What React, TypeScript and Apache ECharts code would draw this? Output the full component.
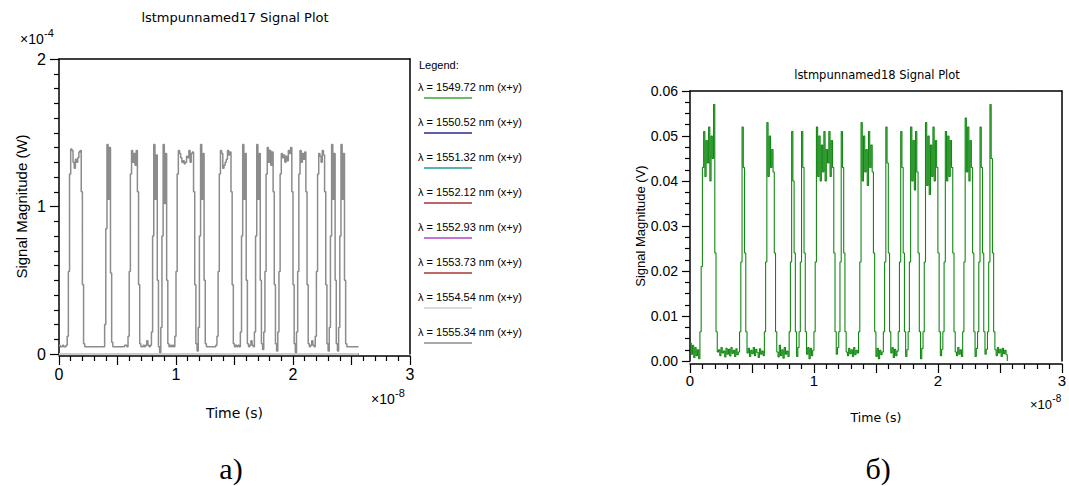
import React, { useEffect, useRef } from "react";
import * as echarts from "echarts";

// Time between samples, in units of 1e-8 s
const SAMPLE_STEP = 0.01;

// Optical power of the λ = 1555.34 nm channel, ×1e-4 W, one value per sample
const powerW = [
  0.06, 0.05, 0.05, 0.06, 0.05, 0.05, 0.06, 0.12, 0.56, 1.22, 1.39, 1.38, 1.30, 1.26, 1.32, 1.30,
  1.33, 1.37, 1.38, 1.10, 0.47, 0.07, 0.05, 0.05, 0.05, 0.05, 0.05, 0.05, 0.05, 0.05, 0.05, 0.05,
  0.05, 0.05, 0.05, 0.05, 0.05, 0.05, 0.05, 0.20, 0.85, 1.42, 1.05, 1.40, 0.55, 0.08, 0.05, 0.05,
  0.05, 0.05, 0.05, 0.05, 0.05, 0.05, 0.05, 0.05, 0.06, 0.06, 0.05, 0.12, 0.56, 1.22, 1.38, 1.30,
  1.36, 1.28, 1.38, 1.10, 0.47, 0.07, 0.05, 0.05, 0.06, 0.05, 0.06, 0.09, 0.06, 0.05, 0.06, 0.15,
  0.80, 1.42, 1.05, 1.35, 0.50, 0.05, 0.01, 0.18, 0.80, 1.42, 1.02, 1.36, 0.50, 0.07, 0.05, 0.06,
  0.05, 0.06, 0.05, 0.12, 0.56, 1.22, 1.38, 1.36, 1.33, 1.30, 1.31, 1.29, 1.30, 1.34, 1.33, 1.38,
  1.30, 1.36, 1.37, 1.10, 0.47, 0.07, 0.02, 0.18, 0.80, 1.42, 1.05, 1.36, 0.50, 0.07, 0.05, 0.05,
  0.05, 0.05, 0.05, 0.05, 0.05, 0.05, 0.06, 0.12, 0.56, 1.22, 1.38, 1.36, 1.26, 1.28, 1.30, 1.32,
  1.38, 1.35, 1.37, 1.10, 0.47, 0.07, 0.05, 0.06, 0.05, 0.06, 0.05, 0.15, 0.80, 1.42, 1.05, 1.36,
  0.50, 0.07, 0.05, 0.06, 0.09, 0.06, 0.05, 0.15, 0.80, 1.42, 1.05, 1.36, 0.50, 0.07, 0.03, 0.15,
  0.56, 1.22, 1.40, 1.30, 1.38, 1.28, 1.37, 1.10, 0.47, 0.07, 0.02, 0.15, 0.56, 1.22, 1.36, 1.33,
  1.35, 1.30, 1.34, 1.31, 1.38, 1.36, 1.40, 1.10, 0.47, 0.07, 0.01, 0.15, 0.56, 1.22, 1.38, 1.30,
  1.36, 1.32, 1.37, 1.10, 0.47, 0.07, 0.05, 0.06, 0.09, 0.06, 0.05, 0.12, 0.56, 1.22, 1.36, 1.34,
  1.30, 1.38, 1.35, 1.10, 0.47, 0.07, 0.02, 0.18, 0.80, 1.42, 1.05, 1.36, 0.50, 0.07, 0.02, 0.18,
  0.80, 1.42, 1.05, 1.36, 0.50, 0.07, 0.05, 0.05, 0.05, 0.05, 0.05, 0.05, 0.05, 0.05, 0.05, 0.05,
  0.05,
];

// Photodetector output, V, one value per sample
const voltageV = [
  0.0040, 0.0015, 0.0035, 0.0008, 0.0030, 0.0012, 0.0025, 0.0005, 0.0065, 0.021, 0.043, 0.051, 0.041, 0.049, 0.044, 0.052,
  0.040, 0.050, 0.045, 0.057, 0.024, 0.0065, 0.0020, 0.0025, 0.0012, 0.0030, 0.0018, 0.0022, 0.0009, 0.0028, 0.0015, 0.0026,
  0.0011, 0.0030, 0.0017, 0.0024, 0.0010, 0.0027, 0.0014, 0.0020, 0.0065, 0.022, 0.052, 0.043, 0.024, 0.0065, 0.0018, 0.0028,
  0.0010, 0.0024, 0.0016, 0.0030, 0.0012, 0.0026, 0.0019, 0.0008, 0.0027, 0.0015, 0.0022, 0.0012, 0.0065, 0.022, 0.053, 0.041,
  0.050, 0.043, 0.047, 0.042, 0.024, 0.0065, 0.0020, 0.0009, 0.0035, 0.0012, 0.0025, 0.0006, 0.0030, 0.0015, 0.0022, 0.0010,
  0.0065, 0.022, 0.051, 0.040, 0.024, 0.0065, 0.0010, 0.0030, 0.0065, 0.022, 0.051, 0.043, 0.024, 0.0065, 0.0015, 0.0030,
  0.0005, 0.0028, 0.0012, 0.0024, 0.0065, 0.022, 0.052, 0.041, 0.050, 0.040, 0.048, 0.042, 0.051, 0.040, 0.047, 0.044,
  0.051, 0.041, 0.049, 0.043, 0.024, 0.0065, 0.0015, 0.0030, 0.0065, 0.022, 0.051, 0.043, 0.024, 0.0065, 0.0020, 0.0012,
  0.0028, 0.0016, 0.0025, 0.0010, 0.0030, 0.0014, 0.0024, 0.0018, 0.0065, 0.022, 0.053, 0.040, 0.050, 0.042, 0.047, 0.039,
  0.051, 0.043, 0.048, 0.042, 0.024, 0.0065, 0.0010, 0.0028, 0.0005, 0.0024, 0.0014, 0.0020, 0.0065, 0.022, 0.052, 0.044,
  0.024, 0.0065, 0.0018, 0.0030, 0.0008, 0.0026, 0.0012, 0.0022, 0.0065, 0.022, 0.051, 0.043, 0.024, 0.0065, 0.0010, 0.0025,
  0.0065, 0.022, 0.052, 0.040, 0.049, 0.038, 0.051, 0.042, 0.024, 0.0065, 0.0005, 0.0028, 0.0065, 0.022, 0.053, 0.039,
  0.050, 0.037, 0.048, 0.041, 0.052, 0.040, 0.049, 0.043, 0.024, 0.0065, 0.0012, 0.0026, 0.0065, 0.022, 0.051, 0.040,
  0.050, 0.041, 0.049, 0.043, 0.024, 0.0065, 0.0020, 0.0012, 0.0030, 0.0015, 0.0025, 0.0010, 0.0065, 0.022, 0.054, 0.042,
  0.052, 0.040, 0.049, 0.043, 0.024, 0.0065, 0.0010, 0.0028, 0.0065, 0.022, 0.052, 0.043, 0.024, 0.0065, 0.0015, 0.0026,
  0.0065, 0.022, 0.057, 0.045, 0.024, 0.0065, 0.0025, 0.0012, 0.0030, 0.0018, 0.0026, 0.0010, 0.0028, 0.0016, 0.0024, 0.0014,
  0,
];

// WDM channels shown in the legend of the optical plot
const wavelengths = ["1549.72", "1550.52", "1551.32", "1552.12", "1552.93", "1553.73", "1554.54", "1555.34"];
const channelColors = ["#3aa53a", "#2b2b8c", "#1d9a9a", "#a33434", "#b044c4", "#a83434", "#cccccc", "#8c8c8c"];

// Channels that carry no power: flat traces over the whole record
const idleTimes = [0, 2.56];
const idlePowerW = [0, 0];

const xLabelsLeft = ["0", "1", "2", "3"];

const SANS = "Liberation Sans";
const BLACK = "#000";

const sampled = (values: number[]) => values.map((v, i) => [+(i * SAMPLE_STEP).toFixed(4), v]);

function frameAxes(gridIndex: number) {
  return {
    gridIndex,
    min: 0,
    max: 1,
    axisTick: { show: false },
    axisLabel: { show: false },
    splitLine: { show: false },
    axisLine: { show: true, onZero: false, lineStyle: { color: BLACK, width: 1.5 } },
  };
}

// "×10" with a raised exponent
function scaleNote(x: number, y: number, exp: string, size: number) {
  return [
    {
      type: "text",
      x,
      y,
      style: { text: "×10", font: `${size}px '${SANS}'`, fill: BLACK, textVerticalAlign: "middle" },
    },
    {
      type: "text",
      x: x + size * 1.72,
      y: y - size * 0.45,
      style: { text: exp, font: `${Math.round(size * 0.8)}px '${SANS}'`, fill: BLACK, textVerticalAlign: "middle" },
    },
  ];
}

export default function App() {
  const ref = useRef<HTMLDivElement>(null);

  useEffect(() => {
    if (!ref.current) return;
    const chart = echarts.init(ref.current, undefined, { renderer: "svg" });

    const leftSeries: any[] = wavelengths.map((w, k) => {
      const isSignal = k === wavelengths.length - 1;
      return {
        name: `λ = ${w} nm (x+y)`,
        type: "line",
        xAxisIndex: 0,
        yAxisIndex: 0,
        showSymbol: false,
        step: isSignal ? "end" : undefined,
        data: isSignal ? sampled(powerW) : idleTimes.map((t, i) => [t, idlePowerW[i]]),
        lineStyle: { color: channelColors[k], width: isSignal ? 1.5 : 2 },
        itemStyle: { color: channelColors[k] },
        z: k === 6 ? 3 : isSignal ? 4 : 2,
      };
    });

    const legendGraphics: any[] = [
      {
        type: "text",
        x: 419,
        y: 65,
        style: { text: "Legend:", font: `11px '${SANS}'`, fill: BLACK, textVerticalAlign: "middle" },
      },
    ];
    wavelengths.forEach((w, k) => {
      const lineY = 98 + k * 35;
      legendGraphics.push({
        type: "text",
        x: 418,
        y: lineY - 11,
        style: {
          text: `λ = ${w} nm (x+y)`,
          font: `11px '${SANS}'`,
          fill: BLACK,
          textVerticalAlign: "middle",
        },
      });
      legendGraphics.push({
        type: "line",
        shape: { x1: 424, y1: lineY, x2: 472, y2: lineY },
        style: { stroke: channelColors[k], lineWidth: 1.5 },
      });
    });

    const option: any = {
      animation: false,
      backgroundColor: "#fff",
      textStyle: { fontFamily: SANS },
      grid: [
        { left: 59, top: 59, width: 351, height: 295 },
        { left: 690, top: 91, width: 373, height: 270 },
      ],
      xAxis: [
        {
          gridIndex: 0,
          type: "value",
          min: 0,
          max: 3,
          interval: 0.5,
          offset: 2,
          axisLine: { onZero: false, lineStyle: { color: BLACK, width: 1.5 } },
          axisTick: { length: 9, lineStyle: { color: BLACK, width: 1.2 } },
          minorTick: { show: true, splitNumber: 5, length: 5, lineStyle: { color: BLACK, width: 1.2 } },
          splitLine: { show: false },
          axisLabel: {
            fontSize: 16,
            color: BLACK,
            margin: 10,
            formatter: (v: number) => (Number.isInteger(v) ? xLabelsLeft[v] : ""),
          },
          name: "Time (s)",
          nameLocation: "middle",
          nameGap: 50,
          nameTextStyle: { fontSize: 14, color: BLACK, fontFamily: "DejaVu Sans" },
        },
        { ...frameAxes(0), type: "value", position: "top" },
        {
          gridIndex: 1,
          type: "value",
          min: 0,
          max: 3,
          interval: 0.5,
          offset: 3,
          axisLine: { onZero: false, lineStyle: { color: BLACK, width: 1.5 } },
          axisTick: { length: 9, lineStyle: { color: BLACK, width: 1.2 } },
          minorTick: { show: true, splitNumber: 5, length: 5, lineStyle: { color: BLACK, width: 1.2 } },
          splitLine: { show: false },
          axisLabel: {
            fontSize: 15,
            color: BLACK,
            margin: 9,
            formatter: (v: number) => (Number.isInteger(v) ? String(v) : ""),
          },
          name: "Time (s)",
          nameLocation: "middle",
          nameGap: 47,
          nameTextStyle: { fontSize: 12.5, color: BLACK, fontFamily: "DejaVu Sans" },
        },
        { ...frameAxes(1), type: "value", position: "top" },
      ],
      yAxis: [
        {
          gridIndex: 0,
          type: "value",
          min: 0,
          max: 2,
          interval: 1,
          axisLine: { onZero: false, lineStyle: { color: BLACK, width: 1.5 } },
          axisTick: { length: 9, lineStyle: { color: BLACK, width: 1.2 } },
          minorTick: { show: true, splitNumber: 10, length: 5, lineStyle: { color: BLACK, width: 1.2 } },
          splitLine: { show: false },
          axisLabel: { fontSize: 16, color: BLACK, margin: 13 },
          name: "Signal Magnitude (W)",
          nameLocation: "middle",
          nameGap: 30,
          nameTextStyle: { fontSize: 15, color: BLACK },
        },
        { ...frameAxes(0), type: "value", position: "right" },
        {
          gridIndex: 1,
          type: "value",
          min: 0,
          max: 0.06,
          interval: 0.01,
          axisLine: { onZero: false, lineStyle: { color: BLACK, width: 1.5 } },
          axisTick: { length: 8, lineStyle: { color: BLACK, width: 1.2 } },
          minorTick: { show: true, splitNumber: 4, length: 5, lineStyle: { color: BLACK, width: 1.2 } },
          splitLine: { show: false },
          axisLabel: { fontSize: 14, color: BLACK, margin: 12, formatter: (v: number) => v.toFixed(2) },
          name: "Signal Magnitude (V)",
          nameLocation: "middle",
          nameGap: 43,
          nameTextStyle: { fontSize: 13, color: BLACK },
        },
        { ...frameAxes(1), type: "value", position: "right" },
      ],
      series: [
        ...leftSeries,
        {
          name: "Signal",
          type: "line",
          xAxisIndex: 2,
          yAxisIndex: 2,
          showSymbol: false,
          step: "end",
          data: sampled(voltageV),
          lineStyle: { color: "#118811", width: 1.1 },
          itemStyle: { color: "#118811" },
        },
      ],
      graphic: [
        {
          type: "text",
          x: 235,
          y: 17,
          style: { text: "lstmpunnamed17 Signal Plot", font: "13px 'DejaVu Sans'", fill: BLACK, textAlign: "center", textVerticalAlign: "middle" },
        },
        {
          type: "text",
          x: 877,
          y: 75,
          style: { text: "lstmpunnamed18 Signal Plot", font: "11.5px 'DejaVu Sans'", fill: BLACK, textAlign: "center", textVerticalAlign: "middle" },
        },
        ...scaleNote(20, 39, "-4", 14),
        ...scaleNote(371, 399, "-8", 14),
        ...scaleNote(1030, 404, "-8", 13),
        ...legendGraphics,
        {
          type: "text",
          x: 231,
          y: 468,
          style: { text: "а)", font: "30px 'Liberation Serif'", fill: BLACK, textAlign: "center", textVerticalAlign: "middle" },
        },
        {
          type: "text",
          x: 878,
          y: 468,
          style: { text: "б)", font: "30px 'Liberation Serif'", fill: BLACK, textAlign: "center", textVerticalAlign: "middle" },
        },
      ],
    };

    chart.setOption(option);
    return () => chart.dispose();
  }, []);

  return (
    <div
      ref={ref}
      style={{ position: "absolute", left: 0, top: 0, width: 1069, height: 486, background: "#fff" }}
    />
  );
}
